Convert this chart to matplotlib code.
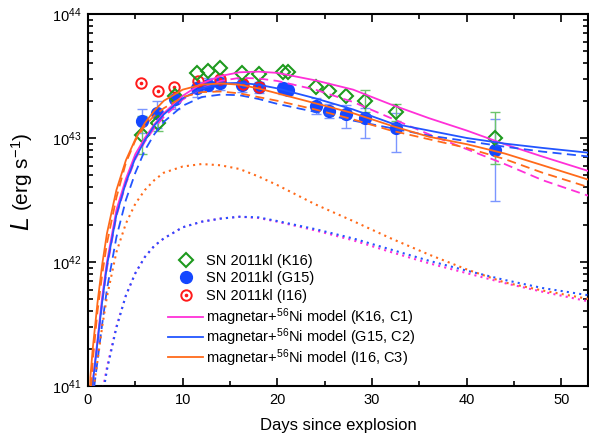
import numpy as np
import matplotlib
matplotlib.use('Agg')
import matplotlib.pyplot as plt
from matplotlib.ticker import MultipleLocator, LogLocator, NullFormatter
from matplotlib.lines import Line2D

plt.rcParams['font.family'] = 'Liberation Sans'
plt.rcParams['mathtext.fontset'] = 'custom'
plt.rcParams['mathtext.rm'] = 'Liberation Sans'
plt.rcParams['mathtext.it'] = 'Liberation Sans:italic'

# SN 2011kl bolometric light curves, log10(L / erg s^-1), days since explosion
t_k16 = [5.67, 7.43, 9.19, 11.48, 12.7, 13.94, 16.3, 18.1, 20.6, 21.1,
         24.1, 25.4, 27.2, 29.2, 32.5, 43.0]
log_k16 = [43.024, 43.123, 43.341, 43.522, 43.541, 43.562, 43.522, 43.516, 43.530, 43.535,
           43.409, 43.379, 43.341, 43.301, 43.207, 42.998]
err_lo_k16 = [0.15, 0.07, 0, 0, 0, 0, 0, 0, 0, 0, 0, 0, 0, 0.09, 0.07, 0.21]
err_hi_k16 = [0.15, 0.07, 0, 0, 0, 0, 0, 0, 0, 0, 0, 0, 0, 0.09, 0.07, 0.21]

t_g15 = [5.67, 7.32, 9.19, 11.5, 12.7, 13.94, 16.3, 18.1, 20.6, 21.1,
         24.1, 25.4, 27.2, 29.2, 32.5, 43.0]
log_g15 = [43.137, 43.199, 43.312, 43.40, 43.43, 43.44, 43.425, 43.41, 43.40, 43.39,
           43.26, 43.218, 43.191, 43.159, 43.078, 42.903]
err_lo_g15 = [0.10, 0.12, 0.08, 0.07, 0.05, 0.05, 0.05, 0.045, 0.045, 0.045,
              0.07, 0.06, 0.11, 0.16, 0.19, 0.41]
err_hi_g15 = [0.10, 0.10, 0.06, 0.05, 0.05, 0.05, 0.05, 0.045, 0.045, 0.045,
              0.065, 0.06, 0.075, 0.08, 0.12, 0.25]

t_i16 = [5.64, 7.43, 9.11, 11.65, 13.94, 16.33, 18.09]
log_i16 = [43.441, 43.381, 43.414, 43.46, 43.476, 43.433, 43.414]

# model light curves (total, magnetar, 56Ni), log10 L
t_model = [0.1, 0.25, 0.5, 1, 1.5, 2, 3, 4, 5, 6, 7, 8, 10, 12, 14, 16, 18, 20,
           24, 28, 32, 36, 40, 44, 48, 53]
c1_total = [40.3, 40.75, 41.03, 41.37, 41.72, 42.0, 42.42, 42.67, 42.87, 43.0, 43.11, 43.2,
            43.34, 43.44, 43.5, 43.53, 43.535, 43.525, 43.465, 43.39, 43.27, 43.16, 43.06,
            42.95, 42.85, 42.73]
c1_mag = [40.25, 40.7, 41.0, 41.33, 41.67, 41.95, 42.37, 42.63, 42.83, 42.97, 43.08, 43.17,
          43.31, 43.4, 43.46, 43.485, 43.48, 43.46, 43.39, 43.29, 43.16, 43.03, 42.91,
          42.79, 42.66, 42.53]
c1_ni = [37.6, 38.7, 39.7, 40.55, 40.95, 41.15, 41.48, 41.73, 41.91, 42.04, 42.13, 42.19,
         42.28, 42.325, 42.35, 42.365, 42.355, 42.325, 42.255, 42.175, 42.08, 41.99, 41.91,
         41.83, 41.76, 41.68]
c2_total = [40.3, 40.75, 41.02, 41.35, 41.68, 41.97, 42.38, 42.64, 42.84, 42.98, 43.1, 43.19,
            43.32, 43.4, 43.44, 43.445, 43.43, 43.40, 43.32, 43.23, 43.12, 43.06, 43.0,
            42.955, 42.92, 42.88]
c2_mag = [40.0, 40.5, 40.9, 41.2, 41.5, 41.78, 42.2, 42.5, 42.72, 42.9, 43.03, 43.13,
          43.26, 43.33, 43.35, 43.345, 43.315, 43.275, 43.21, 43.14, 43.08, 43.02, 42.975,
          42.93, 42.89, 42.85]
c2_ni = [37.5, 38.6, 39.6, 40.5, 40.9, 41.13, 41.47, 41.73, 41.91, 42.04, 42.13, 42.19,
         42.28, 42.325, 42.35, 42.365, 42.36, 42.33, 42.265, 42.19, 42.1, 42.01, 41.93,
         41.855, 41.79, 41.73]
c3_total = [40.6, 41.07, 41.3, 41.67, 41.98, 42.23, 42.58, 42.82, 42.99, 43.12, 43.22, 43.30,
            43.39, 43.43, 43.44, 43.43, 43.40, 43.36, 43.28, 43.2, 43.1, 43.01, 42.95,
            42.875, 42.78, 42.66]
c3_mag = [40.4, 40.9, 41.2, 41.6, 41.9, 42.15, 42.52, 42.8, 42.98, 43.1, 43.18, 43.24,
          43.33, 43.37, 43.375, 43.36, 43.33, 43.3, 43.23, 43.15, 43.06, 42.99, 42.92,
          42.83, 42.72, 42.6]
c3_ni = [39.6, 40.3, 40.93, 41.2, 41.48, 41.72, 42.08, 42.31, 42.47, 42.58, 42.66, 42.72,
         42.77, 42.79, 42.78, 42.75, 42.69, 42.62, 42.465, 42.33, 42.19, 42.06, 41.94,
         41.835, 41.77, 41.70]

magenta = '#ff30d8'
blue = '#2255ff'
orange = '#ff6a1a'
green = '#1e9a1e'
red = '#ff1a1a'


def lum(logs):
    return 10.0 ** np.asarray(logs)


def draw_errors(ax, t, logs, lo, hi, color):
    t = np.asarray(t)
    logs = np.asarray(logs)
    lo = np.asarray(lo)
    hi = np.asarray(hi)
    m = (lo > 0) | (hi > 0)
    L = lum(logs[m])
    yerr = [L - lum(logs[m] - lo[m]), lum(logs[m] + hi[m]) - L]
    ax.errorbar(t[m], L, yerr=yerr, fmt='none', ecolor=color, elinewidth=1,
                capsize=3.5, capthick=1, zorder=1)


fig = plt.figure(figsize=(5.89, 4.43), dpi=100)
ax = fig.add_axes([88/589, 1 - 386/443, 500/589, 372/443])

draw_errors(ax, t_g15, log_g15, err_lo_g15, err_hi_g15, '#7b96ff')
draw_errors(ax, t_k16, log_k16, err_lo_k16, err_hi_k16, '#6cc46c')

ax.plot(t_g15, lum(log_g15), 'o', ms=8.5, mfc='#1447ff', mec='#1447ff', zorder=2)
ax.plot(t_i16, lum(log_i16), 'o', ms=7.5, mfc='none', mec=red, mew=1.4, zorder=2)
ax.plot(t_i16, lum(log_i16), 'o', ms=1.6, mfc=red, mec=red, zorder=2)
ax.plot(t_k16, lum(log_k16), 'D', ms=7.3, mfc='none', mec=green, mew=1.5, zorder=2)

lw = 1.3
dash = (0, (5, 3))
dot = (0, (1, 2))
for tot, mag, ni, col in [(c1_total, c1_mag, c1_ni, magenta),
                          (c2_total, c2_mag, c2_ni, blue),
                          (c3_total, c3_mag, c3_ni, orange)]:
    ax.plot(t_model, lum(tot), '-', color=col, lw=lw, zorder=3)
    ax.plot(t_model, lum(mag), linestyle=dash, color=col, lw=lw, zorder=3)
    ax.plot(t_model, lum(ni), linestyle=dot, color=col, lw=1.5, zorder=3)

ax.set_yscale('log')
ax.set_xlim(0, 52.8)
ax.set_ylim(1e41, 1e44)
ax.xaxis.set_major_locator(MultipleLocator(10))
ax.xaxis.set_minor_locator(MultipleLocator(5))
ax.yaxis.set_minor_locator(LogLocator(base=10, subs=np.arange(2, 10)))
ax.yaxis.set_minor_formatter(NullFormatter())
ax.tick_params(which='both', direction='in', top=True, right=True, width=1.2,
               labelsize=10.5, pad=5)
ax.tick_params(which='major', length=6)
ax.tick_params(which='minor', length=3.5)
for s in ax.spines.values():
    s.set_linewidth(1.5)

ax.set_xlabel('Days since explosion', fontsize=12, labelpad=8)
fig.text(22/589, 1 - 224/443, '$L$', fontsize=18, rotation=90, ha='center', va='center')
fig.text(22/589, 1 - 211/443, '(erg s$^{-1}$)', fontsize=15, rotation=90,
         ha='center', va='bottom')

# data entries and model entries as two stacked legends
data_handles = [
    Line2D([], [], ls='none', marker='D', ms=7.3, mfc='none', mec=green, mew=1.5),
    Line2D([], [], ls='none', marker='o', ms=8.5, mfc='#1447ff', mec='#1447ff'),
    (Line2D([], [], ls='none', marker='o', ms=7.5, mfc='none', mec=red, mew=1.4),
     Line2D([], [], ls='none', marker='o', ms=1.6, mfc=red, mec=red)),
]
data_labels = ['SN 2011kl (K16)', 'SN 2011kl (G15)', 'SN 2011kl (I16)']
model_handles = [Line2D([], [], color=magenta, lw=lw),
                 Line2D([], [], color=blue, lw=lw),
                 Line2D([], [], color=orange, lw=lw)]
model_labels = ['magnetar+$^{56}$Ni model (K16, C1)',
                'magnetar+$^{56}$Ni model (G15, C2)',
                'magnetar+$^{56}$Ni model (I16, C3)']
leg1 = ax.legend(data_handles, data_labels, loc='upper left', bbox_to_anchor=(0.149, 0.371),
                 frameon=False, fontsize=10.5, borderaxespad=0, handlelength=2.4,
                 handletextpad=0.15, labelspacing=0.25)
ax.add_artist(leg1)
ax.legend(model_handles, model_labels, loc='upper left', bbox_to_anchor=(0.149, 0.229),
          frameon=False, fontsize=10.5, borderaxespad=0, handlelength=2.4,
          handletextpad=0.15, labelspacing=-0.1)

fig.savefig('out.png', dpi=100)
